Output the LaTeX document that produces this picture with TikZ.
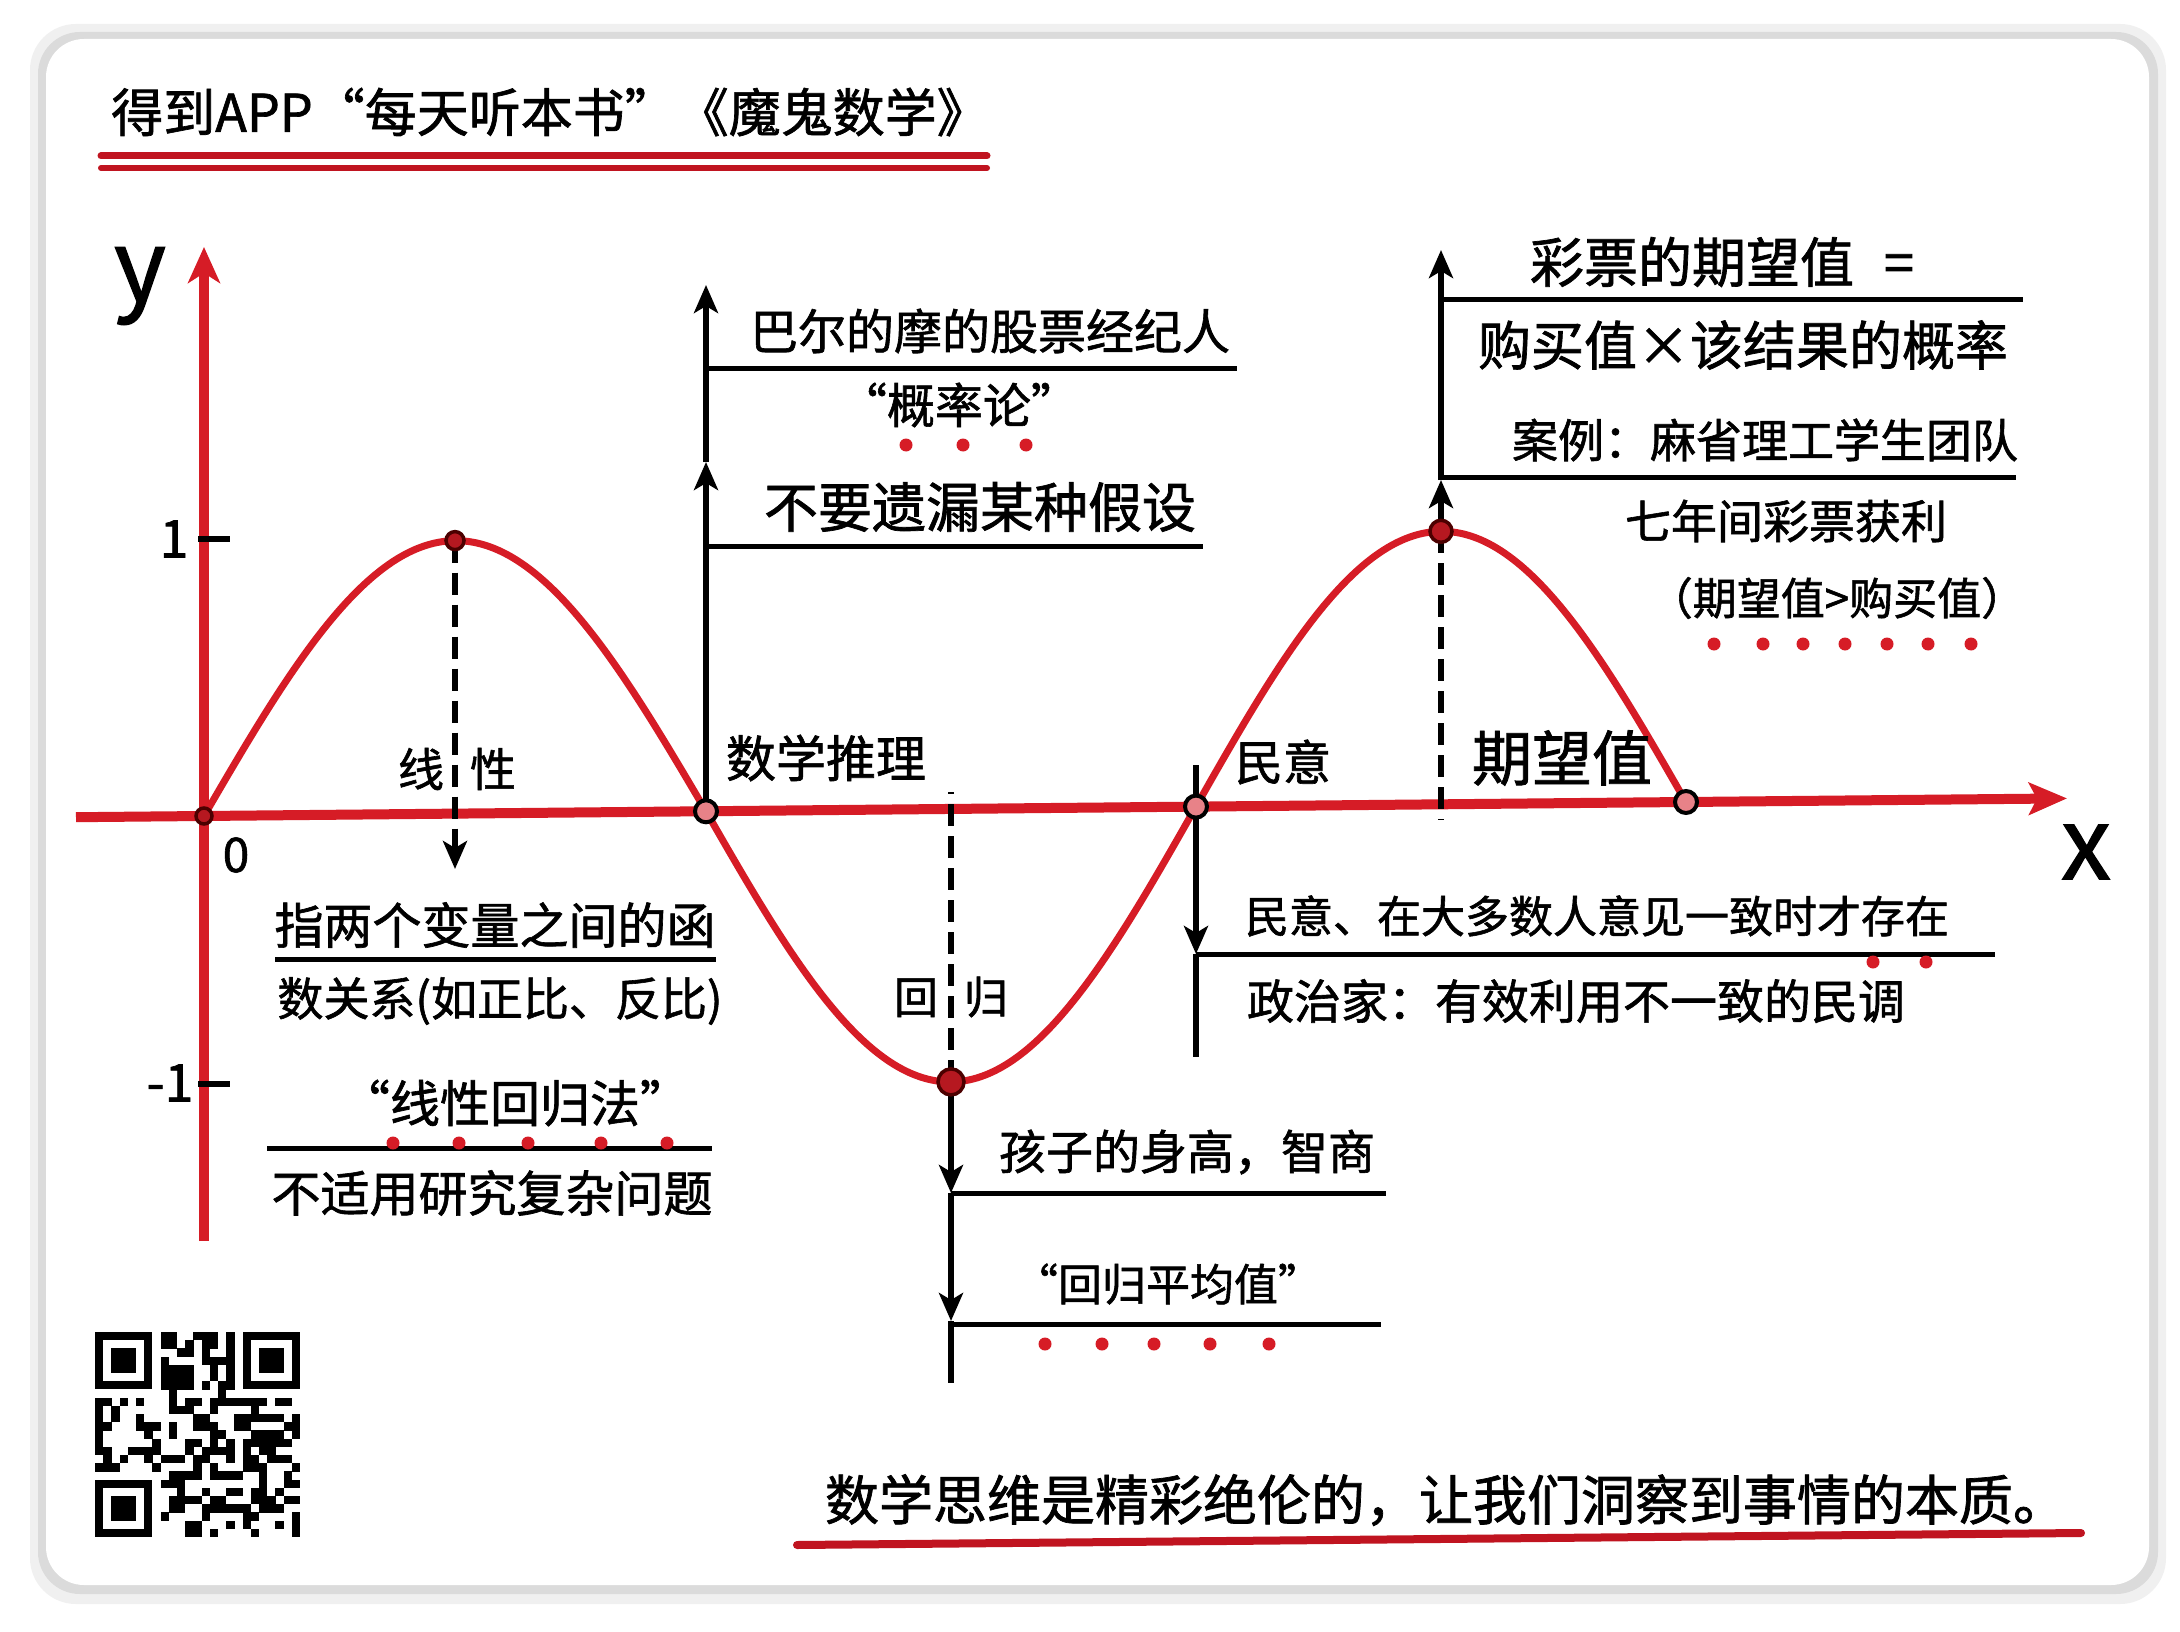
\documentclass[tikz,border=0pt]{standalone}
\usepackage{fontspec}
\newfontfamily\cjk[AutoFakeBold=1.3]{Noto Sans CJK SC}
\usetikzlibrary{arrows.meta}
\definecolor{hred}{RGB}{214,28,38}
\definecolor{dred}{RGB}{192,20,32}
\begin{document}
\begin{tikzpicture}[x=1pt,y=-1pt,
  tx/.style={font=\cjk\bfseries\fontsize{#1}{#1}\selectfont, inner sep=0pt, text=black},
  axisline/.style={line width=10pt, draw=hred},
  curveline/.style={line width=7pt, draw=hred, line cap=round},
  blk/.style={line width=6pt, draw=black},
  hline/.style={line width=5pt, draw=black},
  ulred/.style={line width=7pt, draw=dred, line cap=round},
  dashline/.style={line width=6pt, draw=black, dash pattern=on 22pt off 10pt},
  arrowtip/.style={-{Stealth[length=28pt,width=24pt,inset=7pt]}},
  openpt/.style={circle, draw=black, line width=4pt, fill=hred!55, minimum size=22pt, inner sep=0pt},
  fullpt/.style={circle, draw=black!70!red, line width=3.5pt, fill=hred!85!black, minimum size=#1, inner sep=0pt},
  reddot/.style={fill=hred}
]
\useasboundingbox (0,0) rectangle (2180,1632);
\fill[white] (0,0) rectangle (2180,1632);
% card with shadow
\fill[black!6, rounded corners=46pt] (30,24) rectangle (2166,1604);
\fill[black!14, rounded corners=42pt] (38,32) rectangle (2158,1594);
\fill[white, rounded corners=38pt] (46,39) rectangle (2149,1585);

% title
\node[tx=52] (title) at (550,112) {得到APP“每天听本书”《魔鬼数学》};
\coordinate (tl1a) at (101,156); \coordinate (tl1b) at (987,156);
\coordinate (tl2a) at (101,168); \coordinate (tl2b) at (987,168);
\draw[ulred] (tl1a) -- (tl1b);
\draw[ulred, line width=6pt] (tl2a) -- (tl2b);

% axes
\coordinate (ybot) at (204,1241); \coordinate (ytop) at (204,247);
\coordinate (xl) at (76,817.2); \coordinate (xr) at (2067,798.4);
\draw[axisline, -{Stealth[length=36pt,width=32pt,inset=10pt]}] (ybot) -- (ytop);
\draw[axisline, -{Stealth[length=38pt,width=32pt,inset=8pt]}] (xl) -- (xr);
\node[tx=100] (ylab) at (140,286) {y};
\node[tx=100] (xlab) at (2086,852) {x};
\node[tx=52] (one) at (174,539) {1};
\node[tx=52] (mone) at (170,1083) {-1};
\node[tx=48] (zero) at (236,855) {0};
\coordinate (t1a) at (198,539); \coordinate (t1b) at (230,539);
\coordinate (t2a) at (198,1084); \coordinate (t2b) at (230,1084);
\draw[line width=6pt] (t1a) -- (t1b);
\draw[line width=6pt] (t2a) -- (t2b);

% sine curve
\draw[curveline] plot[domain=0:180, samples=60, smooth] ({204+2.789*\x},{816-0.00945*2.789*\x-273*sin(\x)})
  -- plot[domain=180:540, samples=120, smooth] ({706+2.722*(\x-180)},{816-0.00945*(502+2.722*(\x-180))-273*sin(\x)});

% key points
\coordinate (O) at (204,816);
\coordinate (P1) at (455,540.6);
\coordinate (Z1) at (706,811.3);
\coordinate (M1) at (951,1081.9);
\coordinate (Z2) at (1196,806.6);
\coordinate (P2) at (1441,531.3);
\coordinate (E) at (1686,802);

% linear: dashed down
\coordinate (P1end) at (455,869);
\draw[dashline, arrowtip] (P1) -- (P1end);
\node[tx=46] (xianxing) at (457,769) {线\hspace{26pt}性};

% math reasoning: up
\coordinate (Z1mid) at (706,462); \coordinate (Z1top) at (706,285);
\draw[blk, arrowtip] (Z1) -- (Z1mid);
\draw[blk, arrowtip] (Z1mid) -- (Z1top);
\node[tx=50] (shuxue) at (826,758) {数学推理};
\node[tx=48] (a1) at (990,331) {巴尔的摩的股票经纪人};
\node[tx=48] (a2) at (959,405) {“概率论”};
\node[tx=54] (a3) at (980,507) {不要遗漏某种假设};
\coordinate (h1a) at (706,368); \coordinate (h1b) at (1237,368);
\coordinate (h2a) at (706,546); \coordinate (h2b) at (1203,546);
\draw[hline] (h1a) -- (h1b);
\draw[hline] (h2a) -- (h2b);
\foreach \dx in {906,963,1026} \fill[reddot] (\dx,445) circle[radius=6.5pt];

% lower-left block
\node[tx=49] (l1) at (495,925) {指两个变量之间的函};
\node[tx=46] (l2) at (500,1001) {数关系(如正比、反比)};
\node[tx=50] (l3) at (515,1103) {“线性回归法”};
\node[tx=49] (l4) at (492,1193) {不适用研究复杂问题};
\coordinate (h3a) at (275,959); \coordinate (h3b) at (716,959);
\coordinate (h4a) at (267,1148); \coordinate (h4b) at (712,1148);
\draw[hline] (h3a) -- (h3b);
\draw[hline] (h4a) -- (h4b);
\foreach \dx in {393,459,528,601,667} \fill[reddot] (\dx,1143) circle[radius=6.5pt];

% regression
\coordinate (M1top) at (951,792);
\draw[dashline] (M1) -- (M1top);
\node[tx=44] (huigui) at (951,997) {回\hspace{26pt}归};
\coordinate (M1a) at (951,1193); \coordinate (M1b) at (951,1321); \coordinate (M1bot) at (951,1383);
\draw[blk, arrowtip] (M1) -- (M1a);
\draw[blk, arrowtip] (M1a) -- (M1b);
\draw[blk] (M1b) -- (M1bot);
\node[tx=47] (r1) at (1187,1152) {孩子的身高，智商};
\node[tx=44] (r2) at (1168,1284) {“回归平均值”};
\coordinate (h5a) at (951,1193); \coordinate (h5b) at (1386,1193);
\coordinate (h6a) at (951,1324); \coordinate (h6b) at (1381,1324);
\draw[hline] (h5a) -- (h5b);
\draw[hline] (h6a) -- (h6b);
\foreach \dx in {1045,1102,1154,1210,1269} \fill[reddot] (\dx,1344) circle[radius=6.5pt];

% public opinion
\coordinate (Z2top) at (1196,765); \coordinate (Z2a) at (1196,954); \coordinate (Z2bot) at (1196,1057);
\draw[blk, arrowtip] (Z2top) -- (Z2a);
\draw[blk] (Z2a) -- (Z2bot);
\node[tx=48] (minyi) at (1283,762) {民意};
\node[tx=44] (m1) at (1597,916) {民意、在大多数人意见一致时才存在};
\node[tx=47] (m2) at (1576,1001) {政治家：有效利用不一致的民调};
\coordinate (h7a) at (1196,954); \coordinate (h7b) at (1995,954);
\draw[hline] (h7a) -- (h7b);
\foreach \dx in {1873,1926} \fill[reddot] (\dx,962) circle[radius=6.5pt];

% expectation
\coordinate (P2bot) at (1441,820);
\draw[dashline] (P2) -- (P2bot);
\coordinate (P2a) at (1441,480); \coordinate (P2top) at (1441,250);
\draw[blk, arrowtip] (P2) -- (P2a);
\draw[blk, arrowtip] (P2a) -- (P2top);
\node[tx=60] (qiwang) at (1562,758) {期望值};
\node[tx=54] (e1) at (1722,262) {彩票的期望值\hspace{30pt}=};
\node[tx=53] (e2) at (1743,345) {购买值×该结果的概率};
\node[tx=46] (e3) at (1765,440) {案例：麻省理工学生团队};
\node[tx=46] (e4) at (1786,521) {七年间彩票获利};
\node[tx=44] (e5) at (1837,598) {（期望值>购买值）};
\coordinate (h8a) at (1441,299); \coordinate (h8b) at (2023,299);
\coordinate (h9a) at (1441,477); \coordinate (h9b) at (2016,477);
\draw[hline] (h8a) -- (h8b);
\draw[hline] (h9a) -- (h9b);
\foreach \dx in {1714,1763,1803,1845,1887,1928,1971} \fill[reddot] (\dx,644) circle[radius=6.5pt];

% point markers
\node[fullpt=16pt] (nO) at (O) {};
\node[fullpt=18pt] (nP1) at (P1) {};
\node[openpt] (nZ1) at (Z1) {};
\node[fullpt=26pt] (nM1) at (M1) {};
\node[openpt] (nZ2) at (Z2) {};
\node[fullpt=22pt] (nP2) at (P2) {};
\node[openpt] (nE) at (E) {};

% QR code
\pgfmathsetseed{4242}
\foreach \i in {0,...,24}{
  \foreach \j in {0,...,24}{
    \pgfmathtruncatemacro{\qin}{or(or(and(\i<8,\j<8),and(\i>16,\j<8)),and(\i<8,\j>16))}
    \pgfmathtruncatemacro{\qon}{rnd<0.5}
    \ifnum\qin=0 \ifnum\qon=1 \fill[black] ({95+\i*8.2},{1332+\j*8.2}) rectangle ++(8.3,8.3); \fi\fi
  }
}
\foreach \fx/\fy in {0/0,18/0,0/18}{
  \fill[black] ({95+\fx*8.2},{1332+\fy*8.2}) rectangle ++(57.4,57.4);
  \fill[white] ({95+(\fx+1)*8.2},{1332+(\fy+1)*8.2}) rectangle ++(41,41);
  \fill[black] ({95+(\fx+2)*8.2},{1332+(\fy+2)*8.2}) rectangle ++(24.6,24.6);
}

% bottom sentence
\node[tx=54] (bottom) at (1446,1500) {数学思维是精彩绝伦的，让我们洞察到事情的本质。};
\coordinate (bla) at (797,1545); \coordinate (blb) at (2081,1533);
\draw[ulred, line width=8pt] (bla) -- (blb);
\end{tikzpicture}
\end{document}
